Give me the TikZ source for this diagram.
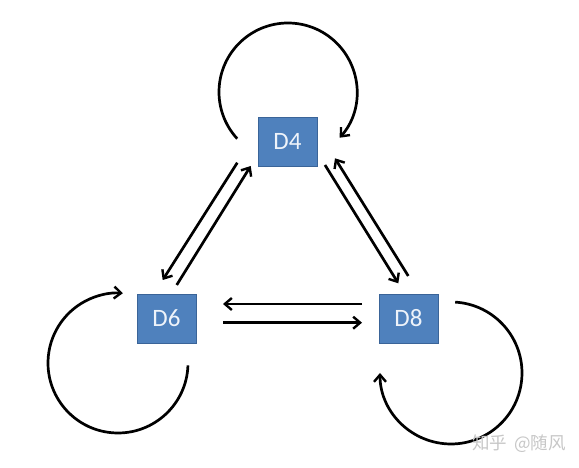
\documentclass[tikz,border=0pt]{standalone}
\usepackage{fontspec}
\setmainfont{Carlito}
\newfontfamily\cjk{Noto Sans CJK SC}
\usetikzlibrary{arrows.meta,calc}
\definecolor{boxfill}{HTML}{4F81BD}
\definecolor{boxedge}{HTML}{3A6498}
\definecolor{boxtext}{HTML}{EEF3FA}
\tikzset{
  statebox/.style={draw=boxedge, fill=boxfill, line width=0.8pt, minimum width=59pt, minimum height=49pt, inner sep=0pt, text=boxtext, font=\fontsize{25}{27}\selectfont},
  arr/.style={line width=2.7pt, -{Straight Barb[length=7pt,width=12pt,line width=2.4pt]}},
  loopline/.style={line width=2.7pt, -{Straight Barb[length=7pt,width=12pt,line width=2.4pt]}},
}
\begin{document}
\begin{tikzpicture}[x=1pt,y=1pt]
\useasboundingbox (0,0) rectangle (579,468);
\fill[white] (0,0) rectangle (579,468);
% nodes
\node[statebox] (D4) at (287.5,326.5) {D4};
\node[statebox] (D6) at (166.5,149.5) {D6};
\node[statebox] (D8) at (408.5,149.5) {D8};
% connector end points
\coordinate (a1) at (237.3,305.3);
\coordinate (a2) at (162.7,188);
\coordinate (b1) at (176.7,183);
\coordinate (b2) at (250.7,302);
\coordinate (c1) at (325,303);
\coordinate (c2) at (398.3,184.7);
\coordinate (d1) at (408.3,192);
\coordinate (d2) at (335,309.7);
\coordinate (e1) at (362,164);
\coordinate (e2) at (223,164);
\coordinate (f1) at (223,145.3);
\coordinate (f2) at (362,145.3);
% loop centres
\coordinate (c4) at (288,376);
\coordinate (c6) at (118,105);
\coordinate (c8) at (451,95);
% arrows between states
\draw[arr] (a1) -- (a2);
\draw[arr] (b1) -- (b2);
\draw[arr] (c1) -- (c2);
\draw[arr] (d1) -- (d2);
\draw[arr] (e1) -- (e2);
\draw[arr] (f1) -- (f2);
% self loops
\draw[loopline] ($(c4)+(222.6:69)$) arc[start angle=222.6, end angle=-41.5, radius=69];
\draw[loopline] ($(c6)+(-2:70)$) arc[start angle=-2, end angle=-274, radius=70];
\draw[loopline] ($(c8)+(86.6:71)$) arc[start angle=86.6, end angle=-180, radius=71];
% watermark
\node[text=black!22, font=\cjk\fontsize{17.5}{19}\selectfont, anchor=center] (wm) at (519,24) {知乎\hspace{7pt}@随风};
\end{tikzpicture}
\end{document}
